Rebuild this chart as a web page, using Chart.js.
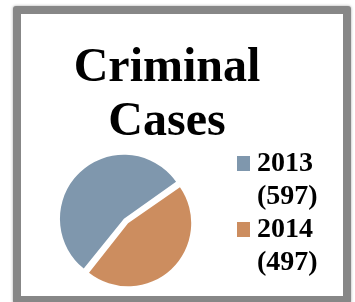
<!DOCTYPE html>
<html>
<head>
<meta charset="utf-8">
<script src="https://cdn.jsdelivr.net/npm/chart.js@4.4.0/dist/chart.umd.min.js"></script>
<style>
    body { margin: 0; background: #fff; overflow: hidden; }
    .frame {
        position: absolute;
        left: 13px;
        top: 6px;
        width: 322px;
        height: 282px;
        border: 8px solid #878787;
        border-radius: 3px;
        box-shadow: 0 0 3px rgba(0, 0, 0, 0.35);
        background: #fff;
    }
    #pie_chart { position: absolute; left: 0; top: 0; z-index: 1; }
</style>
</head>
<body>
<div class="frame"></div>
<canvas id="pie_chart" width="355" height="302"></canvas>
<script>
const titleLines = ['Criminal', 'Cases'];
const categories = ['2013', '2014'];
const caseCounts = [597, 497];
const sliceColors = ['#7f97ad', '#cc8d5f'];

const serif = "'Liberation Serif', 'Times New Roman', serif";

// legend: colour square + year, then the count on its own line (no square)
const legendItems = () => {
    const items = [];
    categories.forEach((year, i) => {
        items.push({
            text: year,
            fillStyle: sliceColors[i],
            strokeStyle: sliceColors[i],
            lineWidth: 0,
            pointStyle: 'rect',
            hidden: false,
            index: i
        });
        items.push({
            text: '(' + caseCounts[i] + ')',
            fillStyle: 'rgba(0,0,0,0)',
            strokeStyle: 'rgba(0,0,0,0)',
            lineWidth: 0,
            pointStyle: 'rect',
            hidden: false,
            index: i
        });
    });
    return items;
}

const ctx = document.querySelector('#pie_chart');
const chart = new Chart(ctx, {
    type: 'pie',
    data: {
        labels: categories,
        datasets: [{
            data: caseCounts,
            backgroundColor: sliceColors,
            borderWidth: 0,
            // chart.js moves a slice by offset / 4, so 12 -> ~3px apart
            offset: 12,
            radius: 61
        }]
    },
    options: {
        responsive: false,
        animation: false,
        devicePixelRatio: 1,
        rotation: 218.5,
        layout: {
            padding: { left: 15, right: 36, top: 30, bottom: 4.5 }
        },
        plugins: {
            tooltip: { enabled: false },
            title: {
                display: true,
                text: titleLines,
                color: '#000',
                font: { family: serif, size: 48, weight: 'bold', lineHeight: 1.125 },
                padding: { top: 11.5, bottom: -5 }
            },
            legend: {
                position: 'right',
                align: 'start',
                fullSize: false,
                maxWidth: 82,
                onClick: null,
                labels: {
                    usePointStyle: true,
                    boxWidth: 1,
                    boxHeight: 15,
                    padding: 5,
                    color: '#000',
                    font: { family: serif, size: 28, weight: 'bold' },
                    generateLabels: legendItems
                }
            }
        }
    }
});
</script>
</body>
</html>
